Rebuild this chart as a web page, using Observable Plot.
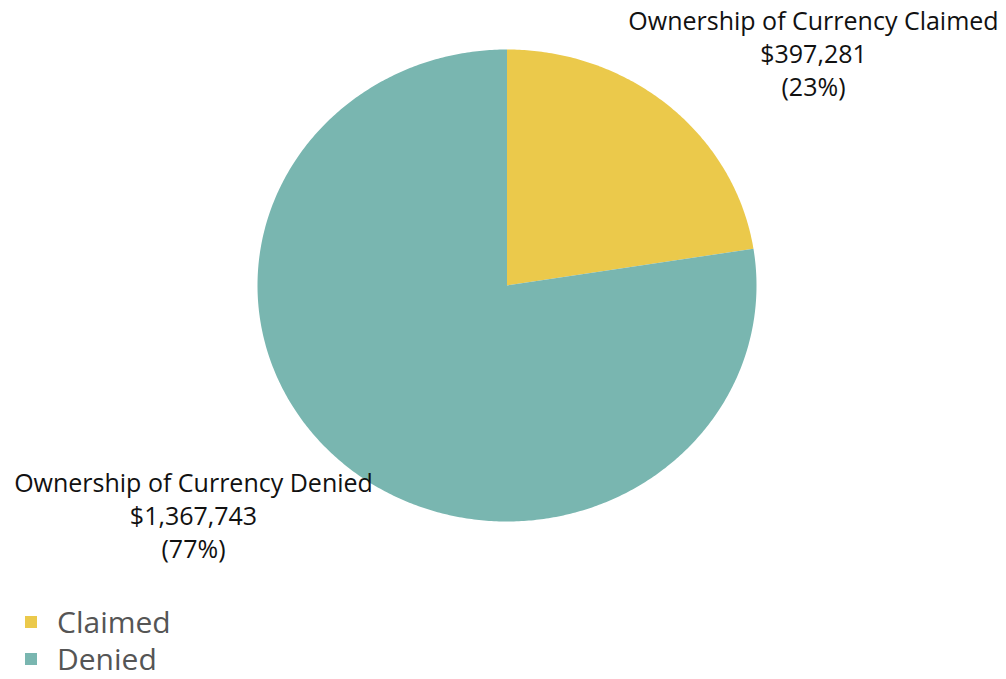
<!DOCTYPE html>
<html>
<head>
<meta charset="utf-8">
<script src="https://cdn.jsdelivr.net/npm/d3@7"></script>
<script src="https://cdn.jsdelivr.net/npm/@observablehq/plot@0.6"></script>
<style>
  html, body { margin: 0; padding: 0; background: #fff; }
  #chart { width: 1006px; }
  .legend { font-family: "Open Sans", "Noto Sans", sans-serif; font-size: 30px; color: #555; padding-top: 3px; }
  .legend .row { display: flex; align-items: center; height: 37px; }
  .legend .row span { line-height: 1; }
  .legend .sw { width: 12px; height: 12px; margin-left: 25px; margin-right: 20px; }
</style>
</head>
<body>
<div id="chart"></div>
<script>
const categories = ["Claimed", "Denied"];
const values = [397281, 1367743];
const labelTitles = ["Ownership of Currency Claimed", "Ownership of Currency Denied"];
const colors = ["#ebc94b", "#79b6b0"];

const total = d3.sum(values);
const pie = d3.pie().sort(null).value(d => d.value);
const slices = pie(categories.map((c, i) => ({key: c, value: values[i], title: labelTitles[i]})));

// outline points of each slice in unit-circle data space (angle clockwise from top)
const points = [];
for (const s of slices) {
  points.push({key: s.data.key, x: 0, y: 0});
  const n = Math.max(2, Math.ceil((s.endAngle - s.startAngle) / 0.01));
  for (let k = 0; k <= n; k++) {
    const a = s.startAngle + (s.endAngle - s.startAngle) * k / n;
    points.push({key: s.data.key, x: Math.sin(a), y: Math.cos(a)});
  }
}

const fmt = d3.format(",");
const labelText = s => `${s.data.title}\n$${fmt(s.data.value)}\n(${Math.round(s.data.value / total * 100)}%)`;

const labelFont = {fontSize: 25, fontFamily: "Open Sans, Noto Sans, sans-serif", fill: "#111", textAnchor: "middle", lineAnchor: "top", lineHeight: 1.32};

const plot = Plot.plot({
  width: 1006,
  height: 600,
  margin: 0,
  x: {domain: [-1, 1], range: [257, 756], axis: null},
  y: {domain: [-1, 1], range: [521, 49], axis: null},
  color: {domain: categories, range: colors},
  style: {background: "#fff"},
  marks: [
    Plot.line(points, {x: "x", y: "y", z: "key", fill: "key", stroke: null, curve: "linear-closed"}),
    Plot.text([slices[0]], {frameAnchor: "top-left", dx: 813, dy: 6, text: labelText, ...labelFont}),
    Plot.text([slices[1]], {frameAnchor: "top-left", dx: 193, dy: 468, text: labelText, ...labelFont})
  ]
});
document.getElementById("chart").appendChild(plot);

const legend = document.createElement("div");
legend.className = "legend";
categories.forEach((c, i) => {
  const row = document.createElement("div");
  row.className = "row";
  const sw = document.createElement("div");
  sw.className = "sw";
  sw.style.background = colors[i];
  const t = document.createElement("span");
  t.textContent = c;
  row.appendChild(sw);
  row.appendChild(t);
  legend.appendChild(row);
});
document.getElementById("chart").appendChild(legend);
</script>
</body>
</html>
